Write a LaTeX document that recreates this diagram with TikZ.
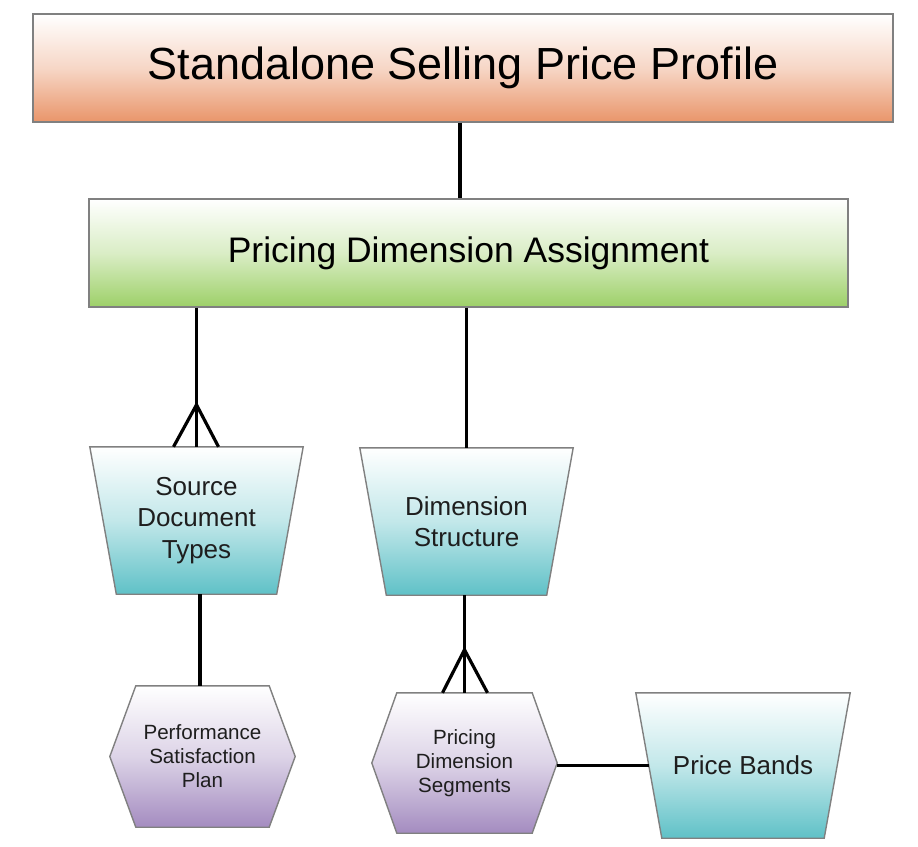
\documentclass[tikz,border=0pt]{standalone}
\usepackage{fontspec}
\setmainfont{Liberation Sans}
\usetikzlibrary{calc,backgrounds}
\definecolor{orangeC}{HTML}{E9956A}
\definecolor{greenC}{HTML}{9DD068}
\definecolor{tealC}{HTML}{5FC1C7}
\definecolor{purpC}{HTML}{A48CC0}
\definecolor{edgeC}{HTML}{808080}
\definecolor{textC}{HTML}{1E1E1E}
\newcommand\trapfill[3]{%
  \shade[shapeedge, top color=white, bottom color=#3, middle color=#3!38]
    (#1.north west) -- (#1.north east)
    -- ($(#1.south east)+(-#2pt,0pt)$) -- ($(#1.south west)+(#2pt,0pt)$) -- cycle;}
\newcommand\hexfill[3]{%
  \shade[shapeedge, top color=white, bottom color=#3, middle color=#3!38]
    ($(#1.north west)+(#2pt,0pt)$) -- ($(#1.north east)+(-#2pt,0pt)$) -- (#1.east)
    -- ($(#1.south east)+(-#2pt,0pt)$) -- ($(#1.south west)+(#2pt,0pt)$) -- (#1.west) -- cycle;}
\begin{document}
\begin{tikzpicture}[x=1pt,y=-1pt,
  shapeedge/.style={draw=edgeC, line width=1.4pt},
  barbox/.style={shapeedge, top color=white, bottom color=#1, middle color=#1!38, inner sep=0pt, text=black},
  ghost/.style={inner sep=0pt, align=center, text=textC},
  trapfont/.style={font=\fontsize{26}{31.5}\selectfont},
  hexfont/.style={font=\fontsize{20.6}{24}\selectfont},
  link/.style={line width=3.2pt, black}]
\useasboundingbox (0,0) rectangle (918,846);

\node[barbox=orangeC, minimum width=860pt, minimum height=108pt,
      font=\fontsize{45}{54}\selectfont] (ssp) at (463,68) {Standalone Selling Price Profile};
\node[barbox=greenC, minimum width=759pt, minimum height=108pt,
      font=\fontsize{35.5}{42}\selectfont] (pda) at (468.5,253) {Pricing Dimension Assignment};

\node[ghost, trapfont, minimum width=213pt, minimum height=147pt] (sdt) at (196.5,520.5) {Source\\Document\\Types};
\node[ghost, trapfont, minimum width=213pt, minimum height=147pt] (ds) at (466.5,521.5) {Dimension\\Structure};
\node[ghost, trapfont, minimum width=214pt, minimum height=145pt] (pb) at (743,765.5) {Price Bands};
\node[ghost, hexfont, minimum width=185pt, minimum height=141pt] (psp) at (202.5,756.5) {Performance\\Satisfaction\\Plan};
\node[ghost, hexfont, minimum width=185pt, minimum height=140pt] (pds) at (464.5,763) {Pricing\\Dimension\\Segments};

\begin{scope}[on background layer]
  \fill[white] (0,0) rectangle (918,846);
  \trapfill{sdt}{26.5}{tealC}
  \trapfill{ds}{26.5}{tealC}
  \trapfill{pb}{26}{tealC}
  \hexfill{psp}{26}{purpC}
  \hexfill{pds}{25}{purpC}
\end{scope}

% connectors
\draw[link] ([xshift=-3pt]ssp.south) -- ([xshift=-8.5pt]pda.north);
\draw[link] (pda.south -| sdt.north) -- (sdt.north);
\draw[link] ($(sdt.north)+(0pt,42pt)$) -- ($(sdt.north)+(-23pt,0pt)$);
\draw[link] ($(sdt.north)+(0pt,42pt)$) -- ($(sdt.north)+(22pt,0pt)$);
\draw[link] (pda.south -| ds.north) -- (ds.north);
\draw[link] ([xshift=3.5pt]sdt.south) -- ([xshift=-2.5pt]psp.north);
\draw[link] (ds.south -| pds.north) -- (pds.north);
\draw[link] ($(pds.north)+(0pt,43pt)$) -- ($(pds.north)+(-22pt,0pt)$);
\draw[link] ($(pds.north)+(0pt,43pt)$) -- ($(pds.north)+(23pt,0pt)$);
\draw[link] ([yshift=-2.5pt]pds.east) -- ($(pb.west)+(13pt,0pt)$);
\end{tikzpicture}
\end{document}
